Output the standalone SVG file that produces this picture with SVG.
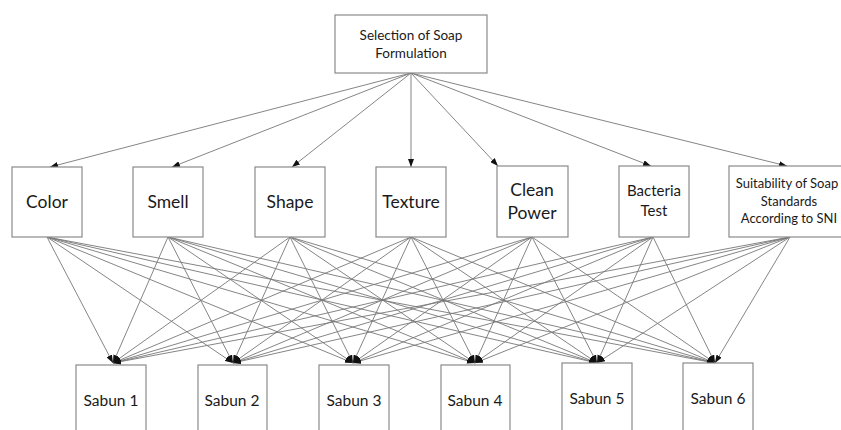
<svg xmlns="http://www.w3.org/2000/svg" width="841" height="430" viewBox="0 0 841 430">
<style>
.box{fill:#fff;stroke:#8a8a8a;stroke-width:1.2}
.t{font-family:Lato,"Open Sans","Liberation Sans",sans-serif;fill:#1a1a1a;text-anchor:middle}
.c{stroke:#777;stroke-width:0.9;fill:none;marker-end:url(#ah)}
</style>
<defs>
<marker id="ah" markerUnits="userSpaceOnUse" markerWidth="8" markerHeight="6" refX="8" refY="3" orient="auto"><path d="M0,0 L8,3 L0,6 z" fill="#111"/></marker>
</defs>
<rect width="841" height="430" fill="#fff"/>
<g id="connectors">
<line class="c" x1="411" y1="73" x2="50" y2="167"/>
<line class="c" x1="411" y1="73" x2="172" y2="167"/>
<line class="c" x1="411" y1="73" x2="292" y2="167"/>
<line class="c" x1="411" y1="73" x2="411" y2="167"/>
<line class="c" x1="411" y1="73" x2="498" y2="166"/>
<line class="c" x1="411" y1="73" x2="651" y2="166"/>
<line class="c" x1="411" y1="73" x2="787" y2="166"/>
<g id="bottom-links">
<line class="c" x1="47" y1="237" x2="113" y2="363"/><line class="c" x1="47" y1="237" x2="233" y2="363"/><line class="c" x1="47" y1="237" x2="353" y2="363"/><line class="c" x1="47" y1="237" x2="475" y2="363"/><line class="c" x1="47" y1="237" x2="597" y2="363"/><line class="c" x1="47" y1="237" x2="715" y2="363"/>
<line class="c" x1="168" y1="237" x2="113" y2="363"/><line class="c" x1="168" y1="237" x2="233" y2="363"/><line class="c" x1="168" y1="237" x2="353" y2="363"/><line class="c" x1="168" y1="237" x2="475" y2="363"/><line class="c" x1="168" y1="237" x2="597" y2="363"/><line class="c" x1="168" y1="237" x2="715" y2="363"/>
<line class="c" x1="290" y1="237" x2="113" y2="363"/><line class="c" x1="290" y1="237" x2="233" y2="363"/><line class="c" x1="290" y1="237" x2="353" y2="363"/><line class="c" x1="290" y1="237" x2="475" y2="363"/><line class="c" x1="290" y1="237" x2="597" y2="363"/><line class="c" x1="290" y1="237" x2="715" y2="363"/>
<line class="c" x1="411" y1="237" x2="113" y2="363"/><line class="c" x1="411" y1="237" x2="233" y2="363"/><line class="c" x1="411" y1="237" x2="353" y2="363"/><line class="c" x1="411" y1="237" x2="475" y2="363"/><line class="c" x1="411" y1="237" x2="597" y2="363"/><line class="c" x1="411" y1="237" x2="715" y2="363"/>
<line class="c" x1="532" y1="237" x2="113" y2="363"/><line class="c" x1="532" y1="237" x2="233" y2="363"/><line class="c" x1="532" y1="237" x2="353" y2="363"/><line class="c" x1="532" y1="237" x2="475" y2="363"/><line class="c" x1="532" y1="237" x2="597" y2="363"/><line class="c" x1="532" y1="237" x2="715" y2="363"/>
<line class="c" x1="653" y1="237" x2="113" y2="363"/><line class="c" x1="653" y1="237" x2="233" y2="363"/><line class="c" x1="653" y1="237" x2="353" y2="363"/><line class="c" x1="653" y1="237" x2="475" y2="363"/><line class="c" x1="653" y1="237" x2="597" y2="363"/><line class="c" x1="653" y1="237" x2="715" y2="363"/>
<line class="c" x1="790" y1="237" x2="113" y2="363"/><line class="c" x1="790" y1="237" x2="233" y2="363"/><line class="c" x1="790" y1="237" x2="353" y2="363"/><line class="c" x1="790" y1="237" x2="475" y2="363"/><line class="c" x1="790" y1="237" x2="597" y2="363"/><line class="c" x1="790" y1="237" x2="715" y2="363"/>
</g>
</g>
<g id="goal"><rect class="box" x="335" y="15" width="152" height="58"/><text class="t" x="411" y="40" font-size="13.5">Selection of Soap</text><text class="t" x="411" y="58" font-size="13.5">Formulation</text></g>
<g id="color"><rect class="box" x="12" y="167" width="70" height="70"/><text class="t" x="47" y="208" font-size="17.5">Color</text></g>
<g id="smell"><rect class="box" x="133" y="167" width="70" height="70"/><text class="t" x="168" y="208" font-size="17.5">Smell</text></g>
<g id="shape"><rect class="box" x="255" y="167" width="70" height="70"/><text class="t" x="290" y="208" font-size="17.5">Shape</text></g>
<g id="texture"><rect class="box" x="376" y="167" width="70" height="70"/><text class="t" x="411" y="208" font-size="17.5">Texture</text></g>
<g id="clean-power"><rect class="box" x="497" y="166" width="71" height="71"/><text class="t" x="532" y="196" font-size="17.5">Clean</text><text class="t" x="532" y="219" font-size="17.5">Power</text></g>
<g id="bacteria"><rect class="box" x="619" y="166" width="70" height="71"/><text class="t" x="654" y="196" font-size="15">Bacteria</text><text class="t" x="654" y="216" font-size="15">Test</text></g>
<g id="suitability"><rect class="box" x="729" y="166" width="122" height="71"/><text class="t" x="787" y="188" font-size="13">Suitability of Soap</text><text class="t" x="789" y="206" font-size="13">Standards</text><text class="t" x="789" y="223" font-size="13">According to SNI</text></g>
<g id="sabun1"><rect class="box" x="76" y="365" width="70" height="70"/><text class="t" x="111" y="406" font-size="15.5">Sabun 1</text></g>
<g id="sabun2"><rect class="box" x="198" y="365" width="69" height="70"/><text class="t" x="232" y="406" font-size="15.5">Sabun 2</text></g>
<g id="sabun3"><rect class="box" x="319" y="365" width="70" height="70"/><text class="t" x="354" y="406" font-size="15.5">Sabun 3</text></g>
<g id="sabun4"><rect class="box" x="441" y="365" width="69" height="70"/><text class="t" x="475" y="406" font-size="15.5">Sabun 4</text></g>
<g id="sabun5"><rect class="box" x="562" y="363" width="70" height="72"/><text class="t" x="597" y="404" font-size="15.5">Sabun 5</text></g>
<g id="sabun6"><rect class="box" x="683" y="363" width="70" height="72"/><text class="t" x="718" y="404" font-size="15.5">Sabun 6</text></g>
</svg>
